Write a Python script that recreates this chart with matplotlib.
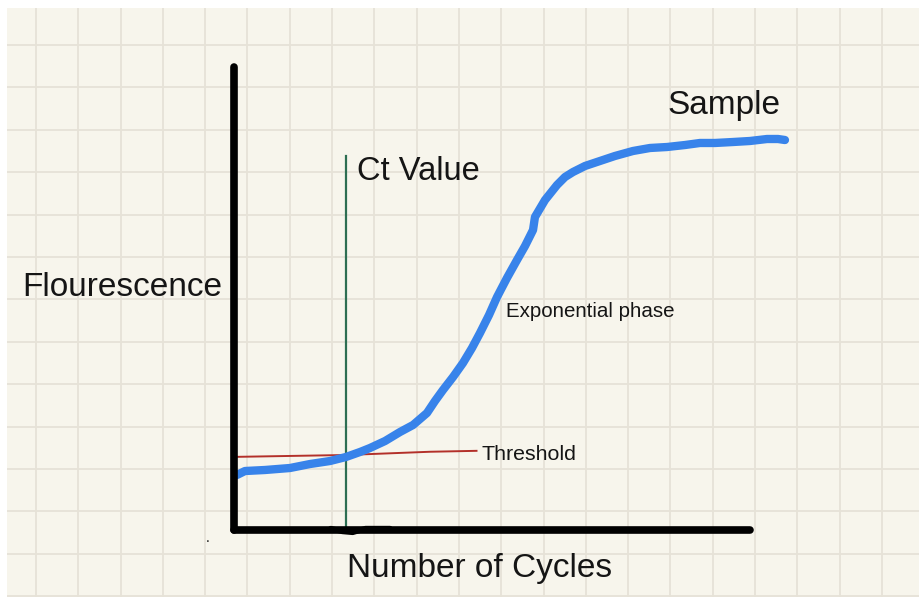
import numpy as np
import matplotlib
matplotlib.use("Agg")
import matplotlib.pyplot as plt

plt.rcParams['font.family'] = ['Liberation Sans', 'DejaVu Sans']

# hand drawn qPCR sketch (cycles / fluorescence units)
cycles = [0.23, 0.85, 2.40, 4.34, 5.89, 7.44, 8.68, 9.77, 10.54, 11.71, 12.87,
          13.88, 14.96, 15.58, 16.20, 16.98, 17.75, 18.45, 19.07, 19.77, 20.39,
          21.16, 21.94, 22.56, 23.18, 23.33, 24.11, 25.04, 25.66, 26.28, 27.21,
          28.37, 29.53, 30.93, 32.25, 33.57, 34.96, 36.12, 37.29, 38.68, 40.00,
          41.32, 42.17, 42.71]
fluor = [11.88, 12.74, 12.96, 13.39, 14.25, 14.90, 15.77, 16.85, 17.71, 19.22,
         21.17, 22.68, 25.27, 27.86, 30.24, 33.05, 36.07, 39.31, 42.55, 46.44,
         50.32, 54.43, 58.32, 61.34, 64.79, 67.60, 71.27, 74.51, 76.24, 77.32,
         78.62, 79.70, 80.78, 81.86, 82.51, 82.72, 83.15, 83.59, 83.59, 83.80,
         84.02, 84.45, 84.45, 84.23]

thr_x = [0.2, 8.7, 15.2, 18.8]
thr_y = [15.8, 16.2, 16.9, 17.1]

ct_cycle = 8.7
ct_top = 80.8

# little wobble drawn over the x axis
wig_x = [7.5, 8.4, 9.2, 10.2, 12.1]
wig_y = [0.3, -0.3, -0.5, 0.3, 0.3]

paper = '#f7f5ec'
gridc = '#e6e2d7'

fig = plt.figure(figsize=(9.2, 6), dpi=100)
fig.patch.set_facecolor('white')

# grid paper background (pixel units)
bg = fig.add_axes([7/920, 3/600, 913/920, 589/600])
bg.set_facecolor(paper)
bg.set_xlim(0, 913)
bg.set_ylim(589, 0)
bg.set_xticks(np.arange(29, 913, 42.3))
bg.set_yticks(np.arange(37, 589, 42.4))
bg.grid(True, color=gridc, lw=1.3)
bg.tick_params(length=0, labelbottom=False, labelleft=False)
for s in bg.spines.values():
    s.set_visible(False)
bg.set_zorder(0)

# main axes: 12.9 px per cycle, 4.63 px per fluorescence unit
ax = fig.add_axes([234/920, 1 - 530/600, 44*12.9/920, 463/600])
ax.patch.set_alpha(0)
ax.set_xlim(0, 44)
ax.set_ylim(0, 100)
ax.set_zorder(1)
for k in ['top', 'right']:
    ax.spines[k].set_visible(False)
for k in ['left', 'bottom']:
    ax.spines[k].set_linewidth(5.5)
    ax.spines[k].set_color('black')
    ax.spines[k].set_capstyle('round')
ax.spines['bottom'].set_bounds(0, 40)
ax.spines['left'].set_bounds(0, 100)
ax.set_xticks([])
ax.set_yticks([])

ax.plot(wig_x, wig_y, color='black', lw=4, solid_capstyle='round', clip_on=False)
ax.plot([ct_cycle, ct_cycle], [0, ct_top], color='#2d6e52', lw=1.6, clip_on=False)
ax.plot(thr_x, thr_y, color='#b3302a', lw=1.4, clip_on=False)
ax.plot(cycles, fluor, color='#3883ea', lw=6, solid_capstyle='round',
        solid_joinstyle='round', clip_on=False)

txt = '#151515'
ax.text(9.5, 77.5, 'Ct Value', fontsize=23.5, color=txt, va='center', ha='left')
ax.text(33.6, 91.6, 'Sample', fontsize=24, color=txt, va='center', ha='left')
ax.text(21.1, 47.2, 'Exponential phase', fontsize=14.8, color=txt, va='center', ha='left')
ax.text(19.2, 16.2, 'Threshold', fontsize=15.4, color=txt, va='center', ha='left')
fig.text(22/920, 1 - 288/600, 'Flourescence', fontsize=24, color=txt, va='center', ha='left')
fig.text(480/920, 1 - 568/600, 'Number of Cycles', fontsize=24, color=txt, va='center', ha='center')
fig.text(208/920, 1 - 538/600, '.', fontsize=10, color=txt, va='center', ha='center')

fig.savefig('out.png', dpi=100, facecolor=fig.get_facecolor())
